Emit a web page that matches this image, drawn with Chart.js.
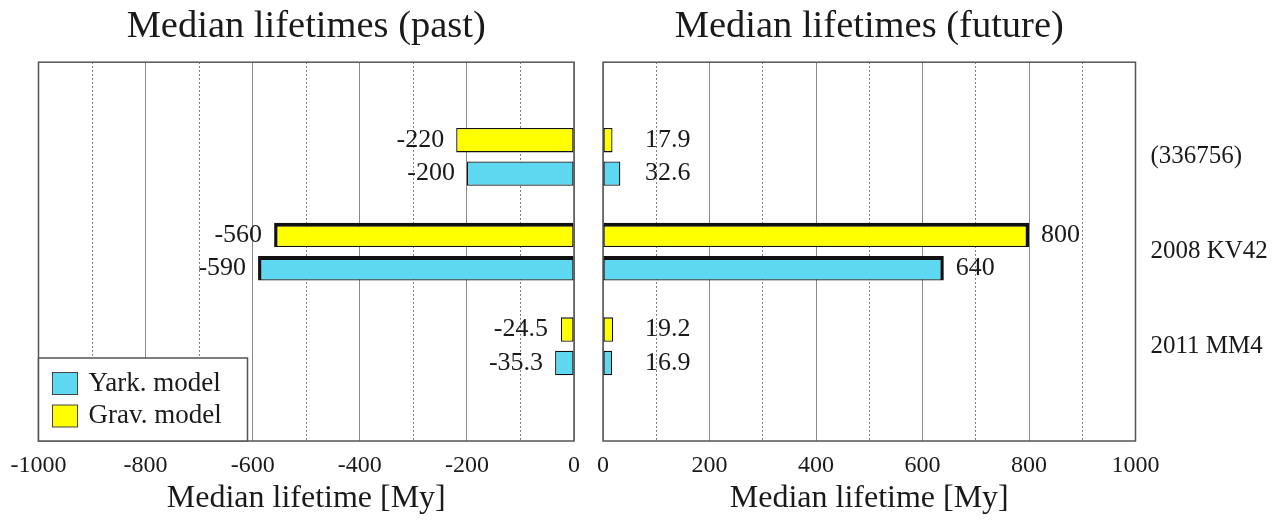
<!DOCTYPE html>
<html>
<head>
<meta charset="utf-8">
<script src="https://cdn.jsdelivr.net/npm/chart.js@4"></script>
<style>
  body { margin: 0; background: #fff; }
  #wrap { position: relative; width: 1287px; height: 522px; }
  .panel { position: absolute; top: 0; height: 522px; }
  #left { left: 0; width: 600px; }
  #right { left: 587px; width: 700px; }
</style>
</head>
<body>
<div id="wrap">
  <div class="panel" id="left"><canvas id="pastChart"></canvas></div>
  <div class="panel" id="right"><canvas id="futureChart"></canvas></div>
</div>
<script>
// objects and median lifetimes in My
const objects = ['(336756)', '2008 KV42', '2011 MM4'];
const pastGrav = [-220, -560, -24.5];
const pastYark = [-200, -590, -35.3];
const futureGrav = [17.9, 800, 19.2];
const futureYark = [32.6, 640, 16.9];

const serif = "'Liberation Serif', 'Times New Roman', serif";
const ink = '#1a1a1a';
const yarkColor = '#5dd8f0';
const gravColor = '#ffff00';

// empty slots above and below so the rows sit at 1/4, 2/4, 3/4 of the height
function padded(arr) {
    return [null, ...arr, null];
}

const framePlugin = {
    id: 'frame',
    beforeDatasetsDraw(chart) {
        const a = chart.chartArea;
        const ctx = chart.ctx;
        ctx.save();
        ctx.strokeStyle = '#555';
        ctx.lineWidth = 1.5;
        ctx.strokeRect(a.left, a.top, a.right - a.left, a.bottom - a.top);
        ctx.restore();
    }
};

const valueLabels = {
    id: 'valueLabels',
    afterDatasetsDraw(chart) {
        const ctx = chart.ctx;
        const xs = chart.scales.x;
        const zero = xs.getPixelForValue(0);
        const past = xs.min < 0;
        ctx.save();
        ctx.font = '26px ' + serif;
        ctx.fillStyle = ink;
        ctx.textBaseline = 'middle';
        ctx.textAlign = past ? 'right' : 'left';
        chart.data.datasets.forEach(function(ds, di) {
            chart.getDatasetMeta(di).data.forEach(function(bar, i) {
                const v = ds.data[i];
                if (v === null) return;
                const x = past ? Math.min(bar.x - 12, zero - 26) : Math.max(bar.x + 12, zero + 42);
                ctx.fillText(String(v), x, bar.y);
            });
        });
        ctx.restore();
    }
};

const boxLegend = {
    id: 'boxLegend',
    afterDraw(chart) {
        const a = chart.chartArea;
        const ctx = chart.ctx;
        const w = 209, h = 83;
        const x0 = a.left, y0 = a.bottom - h;
        ctx.save();
        ctx.fillStyle = '#fff';
        ctx.fillRect(x0, y0, w, h);
        ctx.strokeStyle = '#555';
        ctx.lineWidth = 1.5;
        ctx.strokeRect(x0, y0, w, h);
        // Yark. model listed first
        const items = chart.data.datasets.slice().reverse();
        items.forEach(function(ds, k) {
            const cy = y0 + 25.5 + k * 32.5;
            ctx.fillStyle = ds.backgroundColor;
            ctx.fillRect(x0 + 14, cy - 11, 25, 22);
            ctx.strokeStyle = '#444';
            ctx.lineWidth = 1;
            ctx.strokeRect(x0 + 14, cy - 11, 25, 22);
            ctx.fillStyle = ink;
            ctx.font = '27px ' + serif;
            ctx.textBaseline = 'middle';
            ctx.textAlign = 'left';
            ctx.fillText(ds.label, x0 + 50, cy);
        });
        ctx.restore();
    }
};

function createPanel(canvasId, title, grav, yark, past) {
    const ctx = document.getElementById(canvasId).getContext('2d');

    function borders(c) {
        const heavy = Math.abs(c.raw || 0) > 300;
        const end = heavy ? 3.5 : 1.3;
        const top = heavy ? 4 : 1.3;
        return past
            ? { top: top, bottom: 1.3, left: end, right: 1.3 }
            : { top: top, bottom: 1.3, left: 1.3, right: end };
    }

    const plugins = [framePlugin, valueLabels];
    if (past) plugins.push(boxLegend);

    return new Chart(ctx, {
        type: 'bar',
        data: {
            labels: ['', ...objects, ''],
            datasets: [
                {
                    label: 'Grav. model',
                    data: padded(grav),
                    backgroundColor: gravColor,
                    borderColor: '#111',
                    borderWidth: borders,
                    borderSkipped: false
                },
                {
                    label: 'Yark. model',
                    data: padded(yark),
                    backgroundColor: yarkColor,
                    borderColor: '#111',
                    borderWidth: borders,
                    borderSkipped: false
                }
            ]
        },
        options: {
            indexAxis: 'y',
            responsive: true,
            maintainAspectRatio: false,
            animation: false,
            categoryPercentage: 0.707,
            barPercentage: 0.73,
            layout: {
                padding: past ? { left: 38.5, right: 26, top: 0, bottom: 0 } : { left: 13, right: 0, top: 0, bottom: 0 }
            },
            plugins: {
                legend: { display: false },
                tooltip: { enabled: false },
                title: {
                    display: true,
                    text: title,
                    fullSize: false,
                    color: ink,
                    font: { family: serif, size: 38.5, weight: 'normal' },
                    padding: { top: 4, bottom: 12 }
                }
            },
            scales: {
                x: {
                    min: past ? -1000 : 0,
                    max: past ? 0 : 1000,
                    ticks: {
                        stepSize: 100,
                        autoSkip: false,
                        maxRotation: 0,
                        padding: 10,
                        color: ink,
                        font: { family: serif, size: 24 },
                        callback: function(v) {
                            return v % 200 === 0 ? String(v) : '';
                        }
                    },
                    grid: {
                        drawTicks: false,
                        lineWidth: 1,
                        color: function(c) {
                            return c.tick && c.tick.value % 200 !== 0 ? '#555' : '#8a8a8a';
                        }
                    },
                    border: {
                        display: false,
                        dash: function(c) {
                            return c.tick && c.tick.value % 200 !== 0 ? [1.5, 2.5] : [];
                        }
                    },
                    title: {
                        display: true,
                        text: 'Median lifetime [My]',
                        color: ink,
                        font: { family: serif, size: 32 },
                        padding: { top: 0, bottom: 4 }
                    },
                    afterFit: function(s) { s.height = 81; }
                },
                y: {
                    type: 'category',
                    offset: false,
                    display: !past,
                    position: 'right',
                    grid: { display: false, drawTicks: false },
                    border: { display: false },
                    ticks: {
                        padding: 15,
                        color: ink,
                        font: { family: serif, size: 25 }
                    },
                    afterFit: function(s) { if (!past) s.width = 151.5; }
                }
            }
        },
        plugins: plugins
    });
}

createPanel('pastChart', 'Median lifetimes (past)', pastGrav, pastYark, true);
createPanel('futureChart', 'Median lifetimes (future)', futureGrav, futureYark, false);
</script>
</body>
</html>
